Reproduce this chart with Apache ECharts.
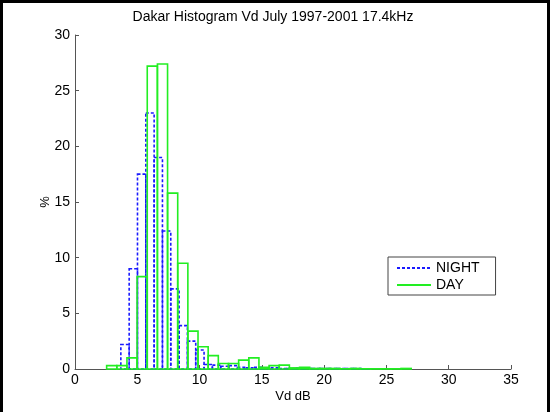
<!DOCTYPE html>
<html><head><meta charset="utf-8">
<script src="https://cdn.jsdelivr.net/npm/echarts@6/dist/echarts.min.js"></script>
<style>html,body{margin:0;padding:0;background:#fff}#c{width:556px;height:412px}</style>
</head><body><div id="c"></div>
<script>
// Histogram bins (30 bins each), values in %
const nightStart = 3.68, nightWidth = 0.668;
const nightValues = [2.2, 9.0, 17.5, 23.0, 19.0, 12.4, 7.2, 3.9, 2.5, 1.7, 0.4, 0.35, 0.25, 0.3, 0.15, 0.1, 0.15, 0.05, 0.1, 0.05, 0.05, 0.08, 0.05, 0.05, 0.05, 0.05, 0.05, 0.05, 0.05, 0.02];
const dayStart = 2.54, dayWidth = 0.815;
const dayValues = [0.3, 0.3, 1.0, 8.3, 27.2, 27.4, 15.8, 9.5, 3.4, 2.0, 1.2, 0.5, 0.5, 0.8, 1.0, 0.15, 0.3, 0.35, 0.1, 0.15, 0.05, 0.05, 0.05, 0.02, 0.05, 0.02, 0.02, 0.02, 0.02, 0.05];
const xTicks = [0, 35, 5];
const yTicks = [0, 30, 5];
const titleText = 'Dakar Histogram Vd July 1997-2001 17.4kHz';
const xName = 'Vd dB', yName = '%';
const seriesNames = ['NIGHT', 'DAY'];

function bins(start, width, vals) {
  return vals.map((v, i) => [start + i * width, start + (i + 1) * width, v]);
}
function barRenderer(color, dashed) {
  return function (params, api) {
    const p0 = api.coord([api.value(0), 0]);
    const p1 = api.coord([api.value(1), api.value(2)]);
    return {
      type: 'rect',
      shape: { x: p0[0], y: p1[1], width: p1[0] - p0[0], height: p0[1] - p1[1] },
      style: { fill: null, stroke: color, lineWidth: 1.6, lineDash: dashed ? [3, 2] : null }
    };
  };
}
const font = 'Liberation Sans, Arial, Helvetica, sans-serif';
const chart = echarts.init(document.getElementById('c'), null, { renderer: 'canvas' });
chart.setOption({
  animation: false,
  backgroundColor: '#fff',
  title: { text: titleText, left: 268, top: 5, textAlign: 'center',
    textStyle: { fontFamily: font, fontSize: 14, fontWeight: 'normal', color: '#000' } },
  grid: { left: 75, right: 45, top: 35, bottom: 43 },
  xAxis: { type: 'value', min: xTicks[0], max: xTicks[1], interval: xTicks[2],
    name: xName, nameLocation: 'middle', nameGap: 21, nameMoveOverlap: false,
    nameTextStyle: { fontFamily: font, fontSize: 13, color: '#000' },
    axisLine: { lineStyle: { color: '#555', width: 1 } },
    axisTick: { inside: true, length: 4, lineStyle: { color: '#555' } },
    axisLabel: { fontFamily: font, fontSize: 14, color: '#000', margin: 4 },
    splitLine: { show: false } },
  yAxis: { type: 'value', min: yTicks[0], max: yTicks[1], interval: yTicks[2],
    name: yName, nameLocation: 'middle', nameGap: 23, nameRotate: 90, nameMoveOverlap: false,
    nameTextStyle: { fontFamily: font, fontSize: 13, color: '#000' },
    axisLine: { show: true, lineStyle: { color: '#555', width: 1 } },
    axisTick: { show: true, inside: true, length: 4, lineStyle: { color: '#555' } },
    axisLabel: { fontFamily: font, fontSize: 14, color: '#000', margin: 5 },
    splitLine: { show: false } },
  legend: {
    data: seriesNames, orient: 'vertical', left: 388, top: 257,
    backgroundColor: '#fff', borderColor: '#444', borderWidth: 1,
    padding: [4, 16, 3, 8], itemGap: 3, itemWidth: 34, itemHeight: 14,
    itemStyle: { opacity: 0 },
    textStyle: { fontFamily: font, fontSize: 14, color: '#000' }
  },
  graphic: [{ type: 'rect', shape: { x: 1.5, y: 1.5, width: 547, height: 430 },
    style: { fill: null, stroke: '#000', lineWidth: 3 }, silent: true, z: 100 }],
  series: [
    { type: 'custom', name: 'nightBars', renderItem: barRenderer('#1a1aff', true),
      data: bins(nightStart, nightWidth, nightValues), encode: { x: [0, 1], y: 2 }, z: 2 },
    { type: 'custom', name: 'dayBars', renderItem: barRenderer('#22ee22', false),
      data: bins(dayStart, dayWidth, dayValues), encode: { x: [0, 1], y: 2 }, z: 3 },
    { type: 'line', name: 'NIGHT', data: [], symbol: 'none',
      itemStyle: { color: '#1a1aff' }, lineStyle: { color: '#1a1aff', type: [3, 2], width: 1.6 } },
    { type: 'line', name: 'DAY', data: [], symbol: 'none',
      itemStyle: { color: '#22ee22' }, lineStyle: { color: '#22ee22', type: 'solid', width: 1.6 } }
  ]
});
</script></body></html>
